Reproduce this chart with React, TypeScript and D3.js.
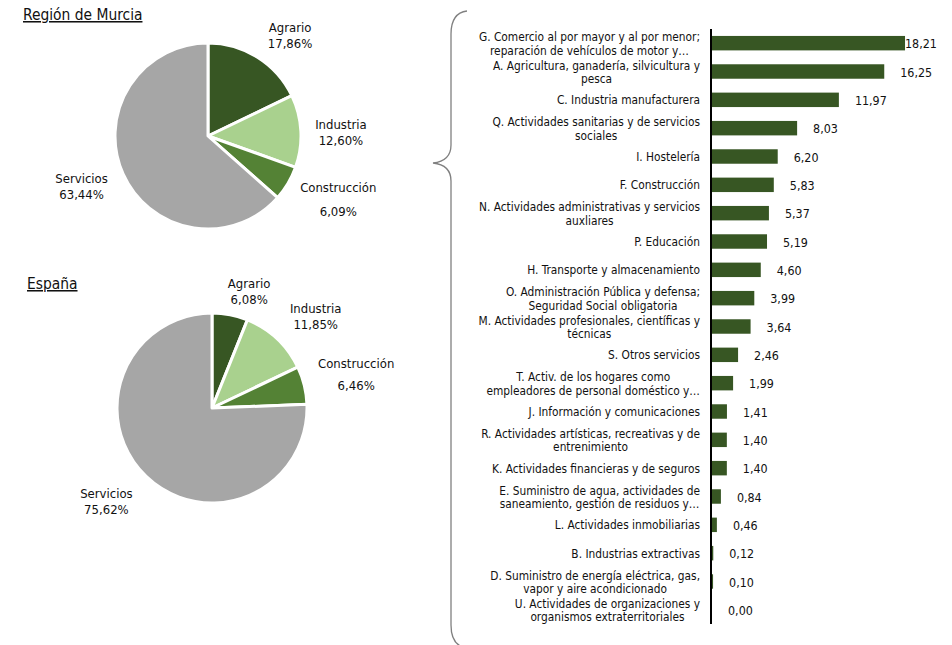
import React, { useEffect, useRef } from "react";
import * as d3 from "d3";

// ---------- data ----------
const pieCategories = ["Agrario", "Industria", "Construcción", "Servicios"];
const murciaValues = [17.86, 12.6, 6.09, 63.44];
const espanaValues = [6.08, 11.85, 6.46, 75.62];
const pieTitles = ["Región de Murcia", "España"];

const sectorLabels = [
  "G. Comercio al por mayor y al por menor;\nreparación de vehículos de motor y…",
  "A. Agricultura, ganadería, silvicultura y\npesca",
  "C. Industria manufacturera",
  "Q. Actividades sanitarias y de servicios\nsociales",
  "I. Hostelería",
  "F. Construcción",
  "N. Actividades administrativas y servicios\nauxliares",
  "P. Educación",
  "H. Transporte y almacenamiento",
  "O. Administración Pública y defensa;\nSeguridad Social obligatoria",
  "M. Actividades profesionales, científicas y\ntécnicas",
  "S. Otros servicios",
  "T. Activ. de los hogares como\nempleadores de personal doméstico y…",
  "J. Información y comunicaciones",
  "R. Actividades artísticas, recreativas y de\nentrenimiento",
  "K. Actividades financieras y de seguros",
  "E. Suministro de agua, actividades de\nsaneamiento, gestión de residuos y…",
  "L. Actividades inmobiliarias",
  "B. Industrias extractivas",
  "D. Suministro de energía eléctrica, gas,\nvapor y aire acondicionado",
  "U. Actividades de organizaciones y\norganismos extraterritoriales",
];
const sectorValues = [
  18.21, 16.25, 11.97, 8.03, 6.2, 5.83, 5.37, 5.19, 4.6, 3.99, 3.64, 2.46, 1.99,
  1.41, 1.4, 1.4, 0.84, 0.46, 0.12, 0.1, 0.0,
];

// ---------- styles / layout ----------
const W = 952;
const H = 645;
const FONT = "'DejaVu Sans', Verdana, sans-serif";
const STRETCH = "condensed";
const pieColors = ["#375623", "#A9D18E", "#548235", "#A6A6A6"];
const barColor = "#375623";
const textColor = "#111";

const pieLayouts = [
  {
    cx: 208, cy: 136, r: 93, titleX: 23, titleY: 20,
    // label placement: [angle nudge (deg), distance, gap between lines]
    labels: [[7, 130, 16], [1.3, 133, 16], [-4.6, 145, 24], [2.6, 136, 16]],
  },
  {
    cx: 212, cy: 408, r: 95, titleX: 27, titleY: 289,
    labels: [[6.8, 122, 16], [5.5, 138, 16], [0.8, 148, 22], [4.6, 141, 16]],
  },
];

const fmt = (v: number) => v.toFixed(2).replace(".", ",");

export default function App() {
  const ref = useRef<SVGSVGElement>(null);

  useEffect(() => {
    const svg = d3.select(ref.current as SVGSVGElement);
    svg.selectAll("*").remove();
    svg.attr("font-family", FONT).style("font-stretch", STRETCH);

    // ---------- pies ----------
    const pie = d3.pie<number>().sort(null).value((d) => d);
    [murciaValues, espanaValues].forEach((vals, pi) => {
      const L = pieLayouts[pi];
      const g = svg.append("g").attr("transform", `translate(${L.cx},${L.cy})`);
      const arcs = pie(vals);
      const arc = d3.arc<d3.PieArcDatum<number>>().innerRadius(0).outerRadius(L.r);
      g.selectAll("path.slice")
        .data(arcs)
        .join("path")
        .attr("class", "slice")
        .attr("d", arc)
        .attr("fill", (_, i) => pieColors[i])
        .attr("stroke", "#fff")
        .attr("stroke-width", 3)
        .attr("stroke-linejoin", "round");

      arcs.forEach((a, i) => {
        const [nudge, dist, gap] = L.labels[i];
        const ang = (a.startAngle + a.endAngle) / 2 + (nudge * Math.PI) / 180;
        const lx = Math.sin(ang) * dist;
        const ly = -Math.cos(ang) * dist;
        const t = g
          .append("text")
          .attr("text-anchor", "middle")
          .attr("font-size", 13)
          .attr("fill", textColor);
        t.append("tspan").attr("x", lx).attr("y", ly - gap / 2 + 4.5).text(pieCategories[i]);
        t.append("tspan").attr("x", lx).attr("y", ly + gap / 2 + 4.5).text(fmt(a.data) + "%");
      });

      svg
        .append("text")
        .attr("x", L.titleX)
        .attr("y", L.titleY)
        .attr("font-size", 15.4)
        .attr("fill", textColor)
        .attr("text-decoration", "underline")
        .text(pieTitles[pi]);
    });

    // ---------- brace ----------
    svg
      .append("path")
      .attr(
        "d",
        "M467,11 Q451,13 451,34 L451,145 Q451,161 433,163 Q451,165 451,181 L451,625 Q451,646 467,648"
      )
      .attr("fill", "none")
      .attr("stroke", "#808080")
      .attr("stroke-width", 1.3);

    // ---------- bar chart ----------
    const x = d3.scaleLinear().domain([0, 20]).range([712, 924]);
    const y = d3
      .scaleBand<string>()
      .domain(sectorLabels)
      .range([29, 624])
      .paddingInner(0.49)
      .paddingOuter(0.245);
    const bw = y.bandwidth();

    svg
      .append("g")
      .selectAll("rect")
      .data(sectorValues)
      .join("rect")
      .attr("x", x(0))
      .attr("y", (_, i) => y(sectorLabels[i])!)
      .attr("width", (d) => Math.max(0, x(d) - x(0)))
      .attr("height", bw)
      .attr("fill", barColor);

    // value labels
    svg
      .append("g")
      .selectAll("text")
      .data(sectorValues)
      .join("text")
      .attr("x", (d) => Math.min(x(d) + 16, 905))
      .attr("y", (_, i) => y(sectorLabels[i])! + bw / 2 + 5)
      .attr("font-size", 12.4)
      .attr("fill", textColor)
      .text((d) => fmt(d));

    // axis line
    svg
      .append("line")
      .attr("x1", 711)
      .attr("x2", 711)
      .attr("y1", y.range()[0])
      .attr("y2", y.range()[1])
      .attr("stroke", "#000")
      .attr("stroke-width", 2);

    // category labels
    const labelRight = 700;
    const lg = svg.append("g").attr("font-size", 11.8).attr("fill", textColor);
    sectorLabels.forEach((lab) => {
      const lines = lab.split("\n");
      const cy = y(lab)! + bw / 2;
      const t = lg.append("text").attr("text-anchor", "middle");
      const spans = lines.map((ln, k) => {
        const yy = lines.length === 1 ? cy + 4.5 : k === 0 ? cy - 2 : cy + 11.5;
        return t.append("tspan").attr("y", yy).text(ln);
      });
      const widths = spans.map((s) => (s.node() as SVGTSpanElement).getComputedTextLength());
      const bwid = Math.max(...widths);
      spans.forEach((s) => s.attr("x", labelRight - bwid / 2));
    });
  }, []);

  return (
    <svg
      ref={ref}
      width={W}
      height={H}
      style={{ position: "absolute", left: 0, top: 0, background: "#fff" }}
    />
  );
}
